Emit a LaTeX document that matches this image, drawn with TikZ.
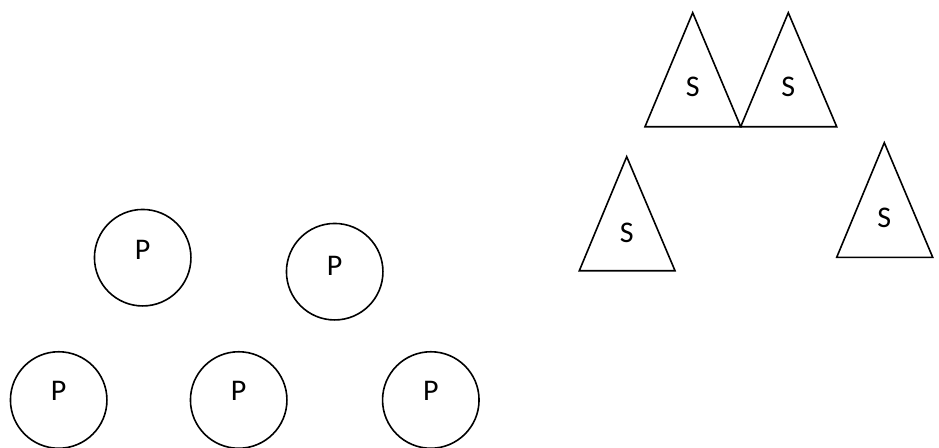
\documentclass[tikz,border=0pt]{standalone}
\usepackage{fontspec}
\setmainfont{Carlito}
\newcommand{\lblfont}{\fontsize{30pt}{34pt}\selectfont}
\begin{document}
\begin{tikzpicture}[x=1pt,y=-1pt,
  pcirc/.style={draw=black,line width=1.6pt,circle,minimum size=96.5pt,inner sep=0pt},
  tri/.style={draw=black,line width=1.6pt,line join=miter},
  lbl/.style={anchor=base,inner sep=0pt,font=\lblfont}]
\useasboundingbox (0,0) rectangle (939,447);
% circles
\node[pcirc] (c1) at (142.7,257.7) {};
\node[pcirc] (c2) at (334.7,271.7) {};
\node[pcirc] (c3) at (58.7,400) {};
\node[pcirc] (c4) at (238.7,400) {};
\node[pcirc] (c5) at (430.8,400) {};
\node[lbl] (p1) at (142.7,259.3) {P};
\node[lbl] (p2) at (334.7,275.2) {P};
\node[lbl] (p3) at (58.7,400) {P};
\node[lbl] (p4) at (238.7,400) {P};
\node[lbl] (p5) at (430.8,400) {P};
% triangles
\draw[tri] (692.7,12.7) -- (740.7,126.7) -- (645,126.7) -- cycle;
\draw[tri] (788.3,12.7) -- (836.7,126.7) -- (740.7,126.7) -- cycle;
\draw[tri] (626.7,156.7) -- (675,270.7) -- (579.3,270.7) -- cycle;
\draw[tri] (884.3,142.7) -- (932.7,257.3) -- (836.7,257.3) -- cycle;
\node[lbl] (s1) at (692.7,96.7) {S};
\node[lbl] (s2) at (788.3,96.7) {S};
\node[lbl] (s3) at (626.7,242.5) {S};
\node[lbl] (s4) at (884.3,227.5) {S};
\end{tikzpicture}
\end{document}
